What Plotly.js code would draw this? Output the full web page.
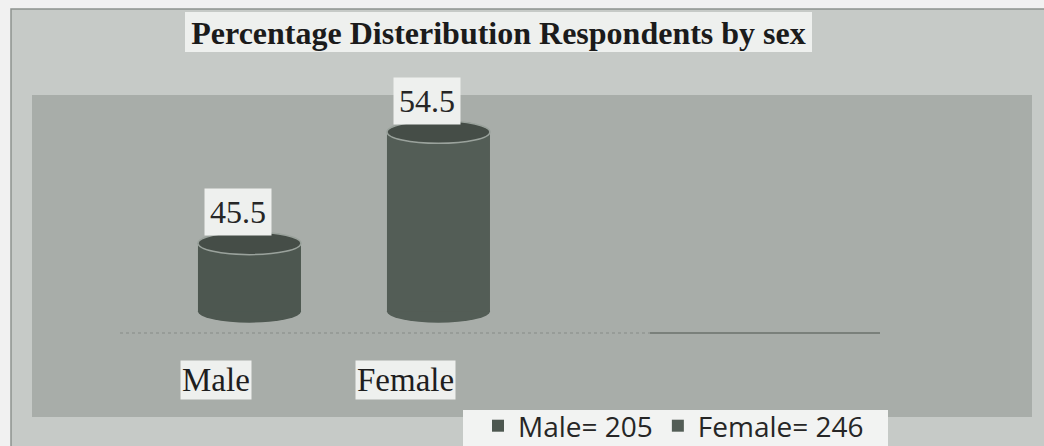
<!DOCTYPE html>
<html>
<head>
<meta charset="utf-8">
<script src="https://cdn.plot.ly/plotly-3.0.1.min.js"></script>
<style>html,body{margin:0;padding:0;background:#f1f1f1;}#chart{width:1044px;height:446px;}</style>
</head>
<body>
<div id="chart"></div>
<script>
// ---- data ----
const categories = ["Male", "Female"];
const percentages = [45.5, 54.5];
const counts = [205, 246];
const titleText = "Percentage Disteribution Respondents by sex";
const axisFloor = 40;   // value axis starts here (as in the original 3-D chart)
const axisTop = 60;

// ---- style ----
const W = 1044, H = 446;
const px = v => v / W;
const py = v => 1 - v / H;
const barColors = ["#4d5750", "#535d56"];
const barWidth = 0.545;
const capHalf = 0.92;    // half-height of the cylinder caps in value units

const traces = categories.map((c, i) => ({
  type: "bar",
  x: [i],
  y: [percentages[i] - axisFloor],
  base: [axisFloor],
  width: barWidth,
  name: c + "= " + counts[i],
  marker: {color: barColors[i], line: {width: 0}},
  hoverinfo: "skip"
}));

const shapes = [
  // outer chart box
  {type: "rect", xref: "paper", yref: "paper", x0: px(11), x1: 1.02, y0: -0.02, y1: py(9),
   fillcolor: "#c6cac7", line: {color: "#8d928e", width: 1.5}, layer: "below"},
  // inner plot area
  {type: "rect", xref: "paper", yref: "paper", x0: px(32), x1: px(1032), y0: py(417), y1: py(95),
   fillcolor: "#a8ada9", line: {width: 0}, layer: "below"},
  // title background
  {type: "rect", xref: "paper", yref: "paper", x0: px(185), x1: px(812), y0: py(52), y1: py(12),
   fillcolor: "#eef0ee", line: {width: 0}, layer: "below"},
  // legend background
  {type: "rect", xref: "paper", yref: "paper", x0: px(463), x1: px(888), y0: -0.02, y1: py(410),
   fillcolor: "#f2f3f2", line: {width: 0}, layer: "below"},
  // floor line
  {type: "line", xref: "paper", yref: "paper", x0: px(120), x1: px(650), y0: py(333), y1: py(333),
   line: {color: "#858b87", width: 1.2, dash: "dot"}, layer: "below"},
  {type: "line", xref: "paper", yref: "paper", x0: px(650), x1: px(880), y0: py(333), y1: py(333),
   line: {color: "#6b726d", width: 1.4}, layer: "below"}
];
categories.forEach((c, i) => {
  // bottom cap
  shapes.push({type: "circle", xref: "x", yref: "y",
    x0: i - barWidth / 2, x1: i + barWidth / 2,
    y0: axisFloor - capHalf, y1: axisFloor + capHalf,
    fillcolor: barColors[i], line: {width: 0}, layer: "below"});
  // top cap
  shapes.push({type: "circle", xref: "x", yref: "y",
    x0: i - barWidth / 2, x1: i + barWidth / 2,
    y0: percentages[i] - capHalf, y1: percentages[i] + capHalf,
    fillcolor: "#454d47", line: {color: "#9aa29c", width: 1.5}, layer: "above"});
});

const annotations = [];
categories.forEach((c, i) => {
  annotations.push({
    x: i, y: percentages[i], xref: "x", yref: "y",
    text: String(percentages[i]), showarrow: false,
    xanchor: "center", yanchor: "bottom", xshift: -11, yshift: 7,
    bgcolor: "#eef0ee", borderpad: 5,
    font: {family: "Liberation Serif, Times New Roman, serif", size: 32, color: "#262626"}
  });
  annotations.push({
    x: i, y: py(380), xref: "x", yref: "paper",
    text: c, showarrow: false,
    xanchor: "center", yanchor: "middle", xshift: -33,
    bgcolor: "#eef0ee", borderpad: 1,
    font: {family: "Liberation Serif, Times New Roman, serif", size: 33, color: "#1e1e1e"}
  });
});

const layout = {
  width: W, height: H,
  margin: {l: 0, r: 0, t: 0, b: 0, pad: 0, autoexpand: false},
  paper_bgcolor: "#f1f1f1",
  plot_bgcolor: "rgba(0,0,0,0)",
  title: {
    text: "<b>" + titleText + "</b>",
    x: (px(185) + px(812)) / 2, xanchor: "center",
    y: py(33), yanchor: "middle",
    font: {family: "Liberation Serif, Times New Roman, serif", size: 32, color: "#1b1b1b"}
  },
  xaxis: {domain: [px(120), px(880)], range: [-0.685, 3.336], visible: false, fixedrange: true},
  yaxis: {domain: [py(336), py(64)], range: [axisFloor - 2, axisTop], visible: false, fixedrange: true},
  showlegend: true,
  legend: {
    orientation: "h", x: px(478), xanchor: "left", y: py(401), yanchor: "top",
    bgcolor: "rgba(0,0,0,0)", borderwidth: 0,
    font: {family: "Open Sans, Noto Sans, sans-serif", size: 28, color: "#262626"},
    itemclick: false, itemdoubleclick: false
  },
  shapes: shapes,
  annotations: annotations
};

Plotly.newPlot("chart", traces, layout, {displayModeBar: false, staticPlot: true});
</script>
</body>
</html>
